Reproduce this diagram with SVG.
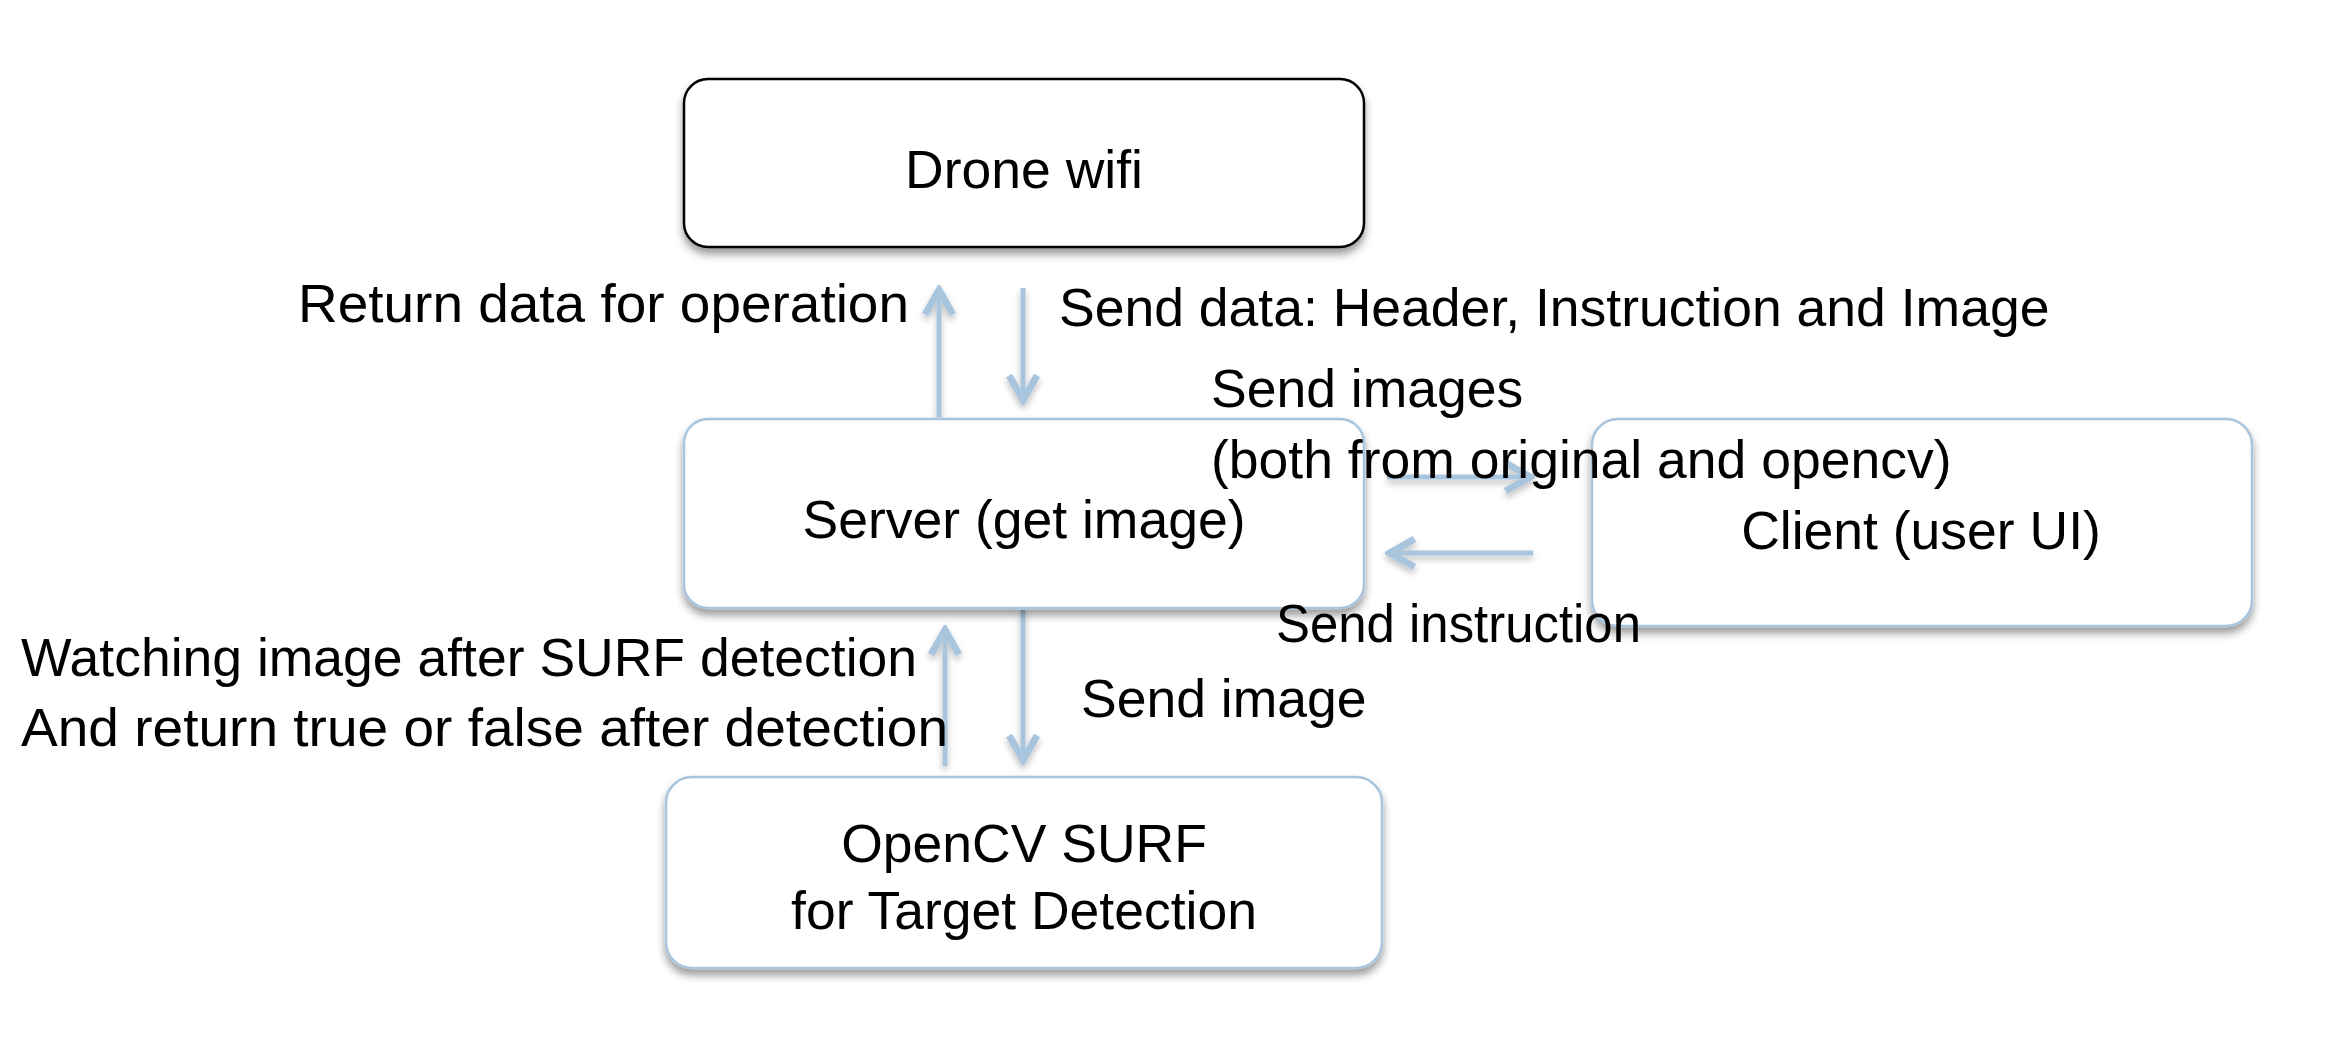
<svg xmlns="http://www.w3.org/2000/svg" width="2338" height="1044" viewBox="0 0 2338 1044">
<style>
.box{fill:#ffffff;stroke-width:2.5;filter:url(#sh)}
.dark{stroke:#000000}
.blue{stroke:#a9c5dd}
.lbl{font-family:"Liberation Sans",Arial,sans-serif;font-size:53.5px;fill:#000000}
.mid{text-anchor:middle}
.conn{stroke:#a9c5dd;stroke-width:5;fill:none;marker-end:url(#ah);filter:url(#sh2)}
</style>
<defs>
<filter id="sh" x="-10%" y="-10%" width="120%" height="130%">
<feDropShadow dx="0" dy="6" stdDeviation="4" flood-color="#000000" flood-opacity="0.4"/>
</filter>
<filter id="sh2" filterUnits="userSpaceOnUse" x="0" y="0" width="2338" height="1044">
<feDropShadow dx="0" dy="4" stdDeviation="3" flood-color="#000000" flood-opacity="0.25"/>
</filter>
<marker id="ah" viewBox="0 0 20 20" refX="17" refY="10" markerWidth="7" markerHeight="7" orient="auto" markerUnits="strokeWidth">
<path d="M3,2 L17,10 L3,18" fill="none" stroke="#a9c5dd" stroke-width="4" stroke-linejoin="miter"/>
</marker>
</defs>
<rect width="2338" height="1044" fill="#ffffff"/>
<g id="connectors">
<line class="conn" x1="939" y1="417" x2="939" y2="290"/>
<line class="conn" x1="1023" y1="288" x2="1023" y2="400"/>
<line class="conn" x1="1387" y1="477" x2="1530" y2="477"/>
<line class="conn" x1="1533" y1="553" x2="1390" y2="553"/>
<line class="conn" x1="1023" y1="610" x2="1023" y2="760"/>
<line class="conn" x1="945" y1="766" x2="945" y2="630"/>
</g>
<g id="node-drone">
<rect class="box dark" x="684" y="79" width="680" height="168" rx="24"/>
<text class="lbl mid" x="1024" y="188">Drone wifi</text>
</g>
<g id="node-server">
<rect class="box blue" x="684" y="419" width="680" height="189" rx="24"/>
<text class="lbl mid" x="1024" y="538">Server (get image)</text>
</g>
<g id="node-client">
<rect class="box blue" x="1592" y="419" width="660" height="207" rx="26"/>
<text class="lbl mid" x="1921" y="549">Client (user UI)</text>
</g>
<g id="node-opencv">
<rect class="box blue" x="666" y="777" width="716" height="191" rx="26"/>
<text class="lbl mid" x="1024" y="862">OpenCV SURF</text>
<text class="lbl mid" x="1024" y="929">for Target Detection</text>
</g>
<g id="labels">
<text class="lbl" x="298" y="322" textLength="611" lengthAdjust="spacingAndGlyphs">Return data for operation</text>
<text class="lbl" x="1059" y="326">Send data: Header, Instruction and Image</text>
<text class="lbl" x="1211" y="407">Send images</text>
<text class="lbl" x="1211" y="478">(both from original and opencv)</text>
<text class="lbl" x="1276" y="642" textLength="365" lengthAdjust="spacingAndGlyphs">Send instruction</text>
<text class="lbl" x="21" y="676">Watching image after SURF detection</text>
<text class="lbl" x="21" y="746" textLength="927" lengthAdjust="spacingAndGlyphs">And return true or false after detection</text>
<text class="lbl" x="1081" y="717">Send image</text>
</g>
</svg>
